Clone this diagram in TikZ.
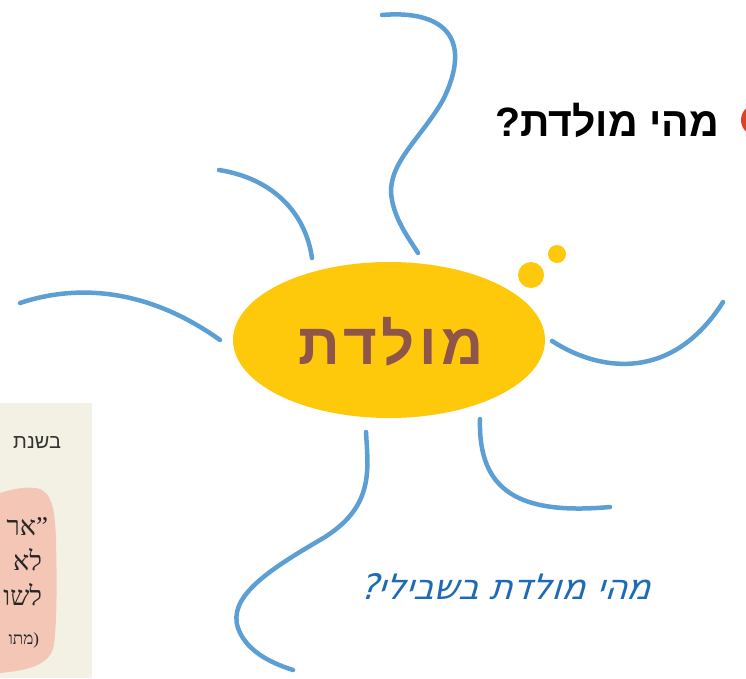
\documentclass[tikz,border=0pt]{standalone}
\usepackage{fontspec}
\usetikzlibrary{shapes.geometric}
\setmainfont{Liberation Sans}
\newfontfamily\hebsans[Script=Hebrew]{Liberation Sans}
\newfontfamily\hebsansL[Script=Hebrew,LetterSpace=8]{Liberation Sans Bold}
\newfontfamily\hebserif[Script=Hebrew]{Liberation Serif}
\newfontfamily\hebhand[Script=Hebrew,FakeSlant=0.3]{DejaVu Sans}
\TeXXeTstate=1
\definecolor{rayblue}{HTML}{5B9FD5}
\definecolor{sunyellow}{HTML}{FFC90B}
\definecolor{wordbrown}{HTML}{8E5548}
\definecolor{handblue}{HTML}{1E6AB4}
\definecolor{panelbeige}{HTML}{F3F1E3}
\definecolor{blobpink}{HTML}{F3C6B5}
\definecolor{bulletred}{HTML}{E0402A}
\tikzset{
  ray/.style={draw=rayblue, line width=4.5pt, line cap=round},
  panel/.style={inner sep=0pt, outer sep=0pt},
  quote/.style={panel, anchor=base east, font=\hebserif\fontsize{27}{30}\selectfont, text=black!85},
}
\begin{document}
\begin{tikzpicture}[x=1pt,y=-1pt]
\useasboundingbox (0,0) rectangle (746,678);
\clip (0,0) rectangle (746,678);
% left panel
\fill[panelbeige] (0,403) rectangle (92,678);
\fill[blobpink] (0,493) .. controls (15,488) and (30,486) .. (40,489)
  .. controls (52,494) and (55,510) .. (56,540)
  .. controls (57,580) and (57,620) .. (54,645)
  .. controls (50,665) and (30,670) .. (0,673) -- cycle;
\node[panel, anchor=base east, font=\hebsans\fontsize{20}{22}\selectfont, text=black!80] (p1) at (61,448) {\beginR בשנת\endR};
\node[quote] (p2) at (48,535) {\beginR ”אר\endR};
\node[quote] (p3) at (42,570) {\beginR לא\endR};
\node[quote] (p4) at (42,605) {\beginR לשו\endR};
\node[panel, anchor=base east, font=\hebserif\fontsize{17}{20}\selectfont, text=black!85] (p5) at (39,644) {\beginR(מתו\endR};
% rays
\draw[ray] (382,15) .. controls (440,10) and (475,35) .. (443,100)
  .. controls (420,140) and (385,165) .. (392,200)
  .. controls (396,222) and (410,240) .. (418,253);
\draw[ray] (219,170) .. controls (270,178) and (305,210) .. (312,258);
\draw[ray] (20,303) .. controls (80,283) and (150,290) .. (220,340);
\draw[ray] (552,341) .. controls (605,375) and (675,378) .. (723,302);
\draw[ray] (480,419) .. controls (478,492) and (520,515) .. (610,507);
\draw[ray] (366,432) .. controls (368,470) and (375,508) .. (320,540)
  .. controls (265,572) and (228,598) .. (238,628)
  .. controls (246,650) and (268,662) .. (293,670);
% sun
\node[ellipse, fill=sunyellow, minimum width=312pt, minimum height=156pt, inner sep=0pt] (sun) at (389,340) {};
\node[anchor=center, text=wordbrown, font=\hebsansL\fontsize{58}{62}\selectfont] (word) at (391,342) {\beginR מולדת\endR};
\node[circle, fill=sunyellow, minimum size=26pt, inner sep=0pt] (b1) at (531,275) {};
\node[circle, fill=sunyellow, minimum size=18pt, inner sep=0pt] (b2) at (557,254) {};
% title
\node[circle, fill=bulletred, minimum size=32pt, inner sep=0pt] (bullet) at (757,120) {};
\node[panel, anchor=base east, font=\hebsans\bfseries\fontsize{41}{44}\selectfont] (title) at (719,136) {\beginR מהי מולדת?\endR};
% handwritten question
\node[panel, anchor=center, text=handblue, font=\hebhand\fontsize{35}{38}\selectfont] (hand) at (505,587) {\beginR מהי מולדת בשבילי?\endR};
\end{tikzpicture}
\end{document}
